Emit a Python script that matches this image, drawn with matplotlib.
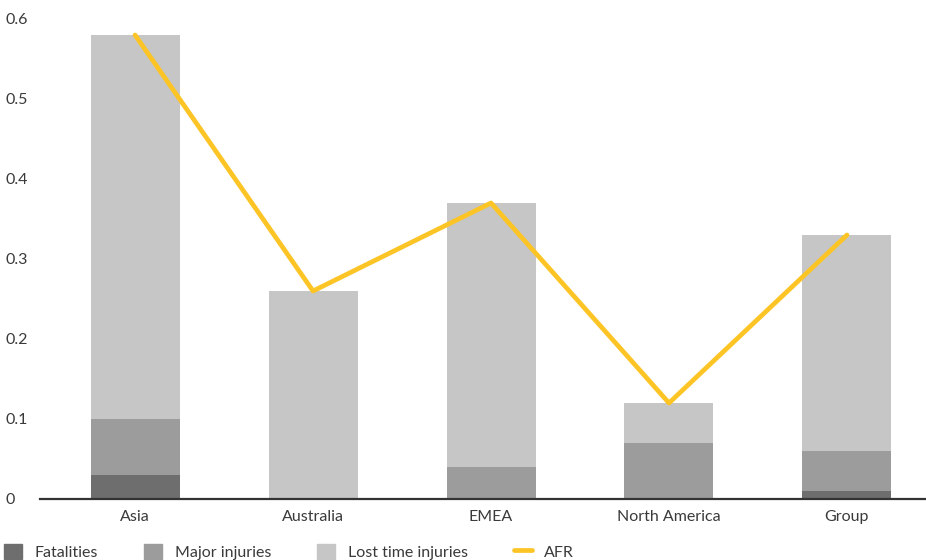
import matplotlib
matplotlib.use("Agg")
import matplotlib.pyplot as plt
from matplotlib.patches import Patch
from matplotlib.lines import Line2D

regions = ["Asia", "Australia", "EMEA", "North America", "Group"]
fatalities = [0.03, 0.0, 0.0, 0.0, 0.01]
major_injuries = [0.07, 0.0, 0.04, 0.07, 0.05]
lost_time_injuries = [0.48, 0.26, 0.33, 0.05, 0.27]
afr = [0.58, 0.26, 0.37, 0.12, 0.33]
y_ticks = [0, 0.1, 0.2, 0.3, 0.4, 0.5, 0.6]
y_tick_labels = ["0", "0.1", "0.2", "0.3", "0.4", "0.5", "0.6"]

c_fat = "#6e6e6e"
c_major = "#9c9c9c"
c_lost = "#c6c6c6"
c_afr = "#fcc425"
text_c = "#3a3a3a"

plt.rcParams["font.family"] = ["Lato", "DejaVu Sans"]

fig = plt.figure(figsize=(9.26, 5.6), dpi=100)
ax = fig.add_axes([40 / 926, 1 - 499 / 560, 1 - 40 / 926, (499 - 19) / 560])

x = list(range(len(regions)))
w = 0.5
ax.bar(x, fatalities, w, color=c_fat, zorder=2)
base2 = fatalities
ax.bar(x, major_injuries, w, bottom=base2, color=c_major, zorder=2)
base3 = [a + b for a, b in zip(fatalities, major_injuries)]
ax.bar(x, lost_time_injuries, w, bottom=base3, color=c_lost, zorder=2)
ax.plot(x, afr, color=c_afr, lw=3.4, solid_capstyle="round", zorder=3)

ax.set_xlim(-0.534, 4.444)
ax.set_ylim(0, 0.6)
ax.set_yticks(y_ticks)
ax.set_yticklabels(y_tick_labels)
ax.set_xticks(x)
ax.set_xticklabels(regions)
for s in ["top", "right", "left"]:
    ax.spines[s].set_visible(False)
ax.spines["bottom"].set_color("#333333")
ax.spines["bottom"].set_linewidth(1.6)
ax.spines["bottom"].set_zorder(4)
ax.tick_params(axis="both", length=0, labelsize=11.5, colors=text_c)
ax.tick_params(axis="x", pad=8)
ax.tick_params(axis="y", pad=0)
for lab in ax.get_yticklabels():
    lab.set_horizontalalignment("left")
    lab.set_x(-35 / 886)

handles = [
    Patch(color=c_fat, label="Fatalities"),
    Patch(color=c_major, label="Major injuries"),
    Patch(color=c_lost, label="Lost time injuries"),
    Line2D([0], [0], color=c_afr, lw=3.4, solid_capstyle="round", label="AFR"),
]
fig.legend(handles=handles, loc="upper left", bbox_to_anchor=(-0.004, 0.043),
           ncol=4, frameon=False, fontsize=11.5, labelcolor=text_c,
           handlelength=1.1, handleheight=1.1, handletextpad=0.8,
           columnspacing=2.9, borderpad=0)

fig.savefig("out.png", dpi=100)
